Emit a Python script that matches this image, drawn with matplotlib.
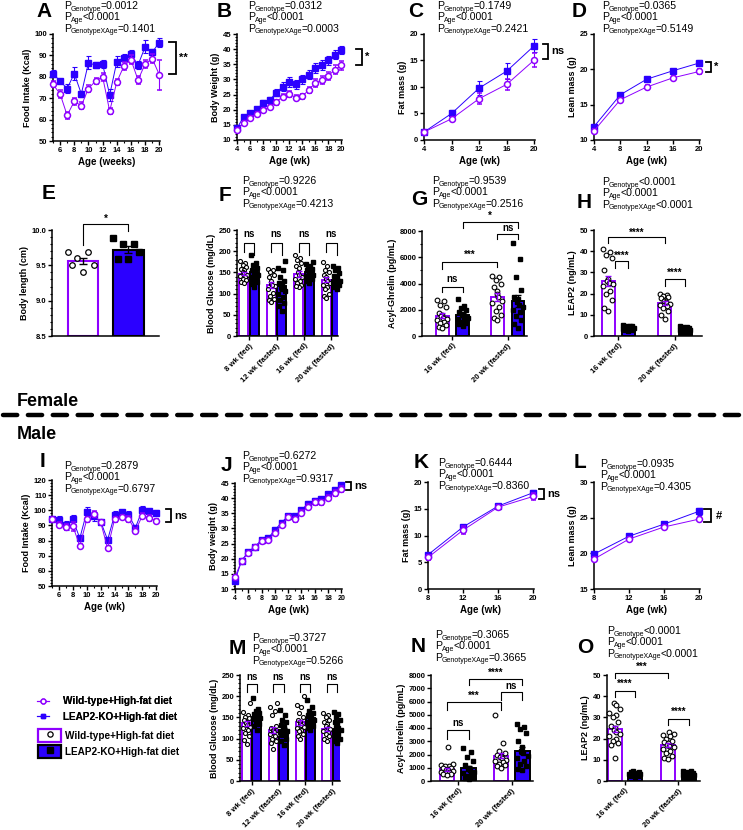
import numpy as np
import matplotlib
matplotlib.use("Agg")
import matplotlib.pyplot as plt
from matplotlib.lines import Line2D
from matplotlib.patches import Patch
from matplotlib.legend_handler import HandlerTuple
from matplotlib.ticker import MultipleLocator, FormatStrFormatter

plt.rcParams.update({
    "font.family": ["Liberation Sans", "DejaVu Sans"],
    "font.weight": "bold",
    "font.size": 6,
    "axes.linewidth": 1.1,
    "axes.labelweight": "bold",
    "axes.labelsize": 6.5,
    "axes.labelpad": 2,
    "xtick.major.width": 1.0, "ytick.major.width": 1.0,
    "xtick.major.size": 3, "ytick.major.size": 3,
    "xtick.minor.size": 1.6, "ytick.minor.size": 1.6,
    "xtick.minor.width": 0.8, "ytick.minor.width": 0.8,
    "xtick.major.pad": 1.5, "ytick.major.pad": 1.0,
    "xtick.labelsize": 5.5, "ytick.labelsize": 5.5,
})

W, H = 743, 830
WT = "#8E00FF"
KO = "#2B00FF"

# ---------------- female data ----------------
wk_fi = [5, 6, 7, 8, 9, 10, 11, 12, 13, 14, 15, 16, 17, 18, 19, 20]
wk_bw = [4, 5, 6, 7, 8, 9, 10, 11, 12, 13, 14, 15, 16, 17, 18, 19, 20]
wk_comp_f = [4, 8, 12, 16, 20]
wk_comp_m = [8, 12, 16, 20]

f_fi_wt = [76.5, 72, 62, 68.5, 66.5, 74.5, 78, 80, 64, 77.5, 85, 88, 78.5, 86, 88.5, 81]
f_fi_wt_e = [1.5, 2, 1.5, 1.5, 1.5, 1.5, 1.5, 2, 1.5, 1.5, 2, 2, 2, 2, 2, 7]
f_fi_ko = [81.5, 78, 74.5, 81.5, 72, 86.5, 85.5, 86, 71.5, 87, 89, 90.5, 85.5, 94, 91.5, 96]
f_fi_ko_e = [1.5, 1, 2, 3, 1.5, 3, 1.5, 2, 3, 2.5, 1.5, 2, 2, 3, 1.5, 2]

f_bw_wt = [13.2, 15.7, 17.4, 18.6, 19.9, 20.9, 22.5, 24.3, 25.3, 24.0, 24.4, 26.5, 28.8, 29.7, 31.2, 33.2, 34.6]
f_bw_wt_e = [0.6, 0.6, 0.6, 0.6, 0.7, 0.7, 0.8, 0.9, 1.0, 0.8, 0.9, 1.0, 1.2, 1.3, 1.4, 1.4, 1.5]
f_bw_ko = [13.8, 17.7, 18.9, 20.1, 22.1, 23.1, 25.6, 27.6, 29.1, 28.4, 30.0, 31.6, 33.8, 34.8, 36.4, 38.1, 39.7]
f_bw_ko_e = [0.5, 0.6, 0.6, 0.8, 1.0, 1.1, 1.2, 1.4, 1.6, 1.5, 1.5, 1.6, 1.7, 1.6, 1.5, 1.5, 1.4]

f_fat_wt = [1.5, 4.0, 7.8, 10.5, 15.1]
f_fat_wt_e = [0.2, 0.3, 1.0, 1.1, 1.3]
f_fat_ko = [1.5, 5.0, 9.8, 13.0, 17.8]
f_fat_ko_e = [0.2, 0.7, 1.3, 1.5, 1.2]

f_lean_wt = [11.3, 15.7, 17.5, 18.8, 19.7]
f_lean_wt_e = [0.3, 0.3, 0.3, 0.3, 0.3]
f_lean_ko = [11.9, 16.4, 18.6, 19.8, 20.9]
f_lean_ko_e = [0.3, 0.3, 0.3, 0.3, 0.4]

f_len_wt_pts = [9.69, 9.69, 9.60, 9.50, 9.50, 9.41]
f_len_ko_pts = [9.89, 9.80, 9.80, 9.69, 9.59, 9.59]
f_len_mean = [9.56, 9.72]
f_len_sem = [0.045, 0.05]

glu_groups = ["8 wk (fed)", "12 wk (fasted)", "16 wk (fed)", "20 wk (fasted)"]
hormone_groups = ["16 wk (fed)", "20 wk (fasted)"]

f_glu_wt = [147, 120, 146, 133]
f_glu_wt_e = [4, 7, 7, 6]
f_glu_ko = [150, 117, 150, 133]
f_glu_ko_e = [5, 8, 4, 4]
f_glu_wt_pts = [
    [176, 172, 168, 163, 158, 155, 152, 148, 145, 142, 139, 135, 131, 128, 125],
    [158, 155, 150, 145, 140, 130, 122, 118, 110, 102, 95, 88, 85, 80, 120],
    [190, 185, 180, 172, 165, 160, 150, 145, 140, 135, 130, 125, 120, 115, 118],
    [175, 165, 155, 150, 145, 140, 135, 130, 125, 120, 115, 110, 100, 95, 90],
]
f_glu_ko_pts = [
    [190, 172, 168, 160, 156, 152, 150, 147, 143, 140, 137, 133, 128, 122, 115],
    [178, 160, 155, 140, 130, 125, 118, 112, 105, 98, 92, 85, 78, 70, 60, 115],
    [175, 170, 165, 160, 158, 155, 152, 150, 147, 145, 142, 140, 138, 135, 130, 125],
    [165, 160, 155, 148, 142, 138, 135, 132, 130, 128, 125, 122, 120, 115, 110],
]

f_ghr_wt = [1550, 2950]
f_ghr_wt_e = [180, 300]
f_ghr_ko = [1600, 2650]
f_ghr_ko_e = [160, 450]
f_ghr_wt_pts = [
    [2750, 2650, 2400, 2200, 1750, 1600, 1500, 1400, 1300, 1200, 1100, 1000, 850, 700, 600],
    [4600, 4500, 4300, 4000, 3700, 3400, 3200, 3000, 2700, 2500, 2200, 1900, 1600, 1400, 1200],
]
f_ghr_ko_pts = [
    [2850, 2300, 2100, 2000, 1800, 1700, 1600, 1500, 1400, 1300, 1200, 1100, 1000, 900, 800],
    [7100, 5900, 4500, 3500, 3000, 2800, 2600, 2400, 2200, 2000, 1800, 1500, 1200, 900, 600],
]

f_leap_wt = [26, 15.5]
f_leap_wt_e = [2.3, 0.9]
f_leap_ko = [4, 3]
f_leap_ko_e = [0.2, 0.2]
f_leap_wt_pts = [
    [41, 39.5, 38, 37, 31, 27, 26, 25, 24.5, 23.5, 21, 20, 17, 13, 12],
    [20, 19.5, 19, 18.5, 18, 17, 16.5, 16, 15, 14.5, 14, 13, 12, 10, 8],
]
f_leap_ko_pts = [
    [5, 4.8, 4.6, 4.5, 4.3, 4.2, 4, 3.9, 3.7, 3.5, 3.3, 3.1, 2.9, 2.7, 2.5],
    [4.5, 4.3, 4.1, 3.9, 3.7, 3.5, 3.3, 3.1, 2.9, 2.7, 2.5, 2.3, 2.1, 2.0, 1.9],
]

# ---------------- male data ----------------
m_fi_wt = [94, 90.5, 89, 89.5, 76.5, 94, 97.5, 92, 75, 94, 95.5, 94.5, 86.5, 96.5, 95, 93]
m_fi_wt_e = [1, 1.5, 2, 3, 1.5, 1.5, 2, 1, 1.5, 1.5, 1.5, 2, 1.5, 1.5, 2, 1.5]
m_fi_ko = [94, 93.5, 90, 94, 81.5, 99, 96, 92.5, 80.5, 97, 99, 97, 88.5, 100.5, 99.5, 98.5]
m_fi_ko_e = [1, 2.5, 3, 3, 1.5, 3, 3, 1, 1.5, 2.5, 1.5, 2.5, 1.5, 2.5, 1.5, 1.5]

m_bw_wt = [14.0, 19.3, 21.8, 23.9, 25.8, 26.2, 28.6, 31.1, 33.7, 33.0, 35.2, 37.2, 38.6, 38.6, 40.2, 41.8, 43.1]
m_bw_wt_e = [0.5, 0.5, 0.5, 0.5, 0.6, 0.6, 0.7, 0.7, 0.7, 0.8, 0.8, 0.8, 0.9, 0.9, 0.9, 1.0, 1.0]
m_bw_ko = [12.8, 19.4, 22.3, 24.0, 26.2, 26.8, 29.5, 31.9, 34.2, 34.0, 36.1, 38.2, 39.2, 39.7, 41.3, 42.8, 44.2]
m_bw_ko_e = [0.5, 0.5, 0.5, 0.5, 0.6, 0.6, 0.6, 0.6, 0.6, 0.6, 0.7, 0.7, 0.7, 0.7, 0.7, 0.7, 0.7]

m_fat_wt = [5.9, 11.0, 15.3, 17.3]
m_fat_wt_e = [0.4, 0.8, 0.4, 0.6]
m_fat_ko = [6.4, 11.6, 15.5, 18.0]
m_fat_ko_e = [0.4, 0.4, 0.4, 0.5]

m_lean_wt = [19.2, 22.0, 23.7, 24.8]
m_lean_wt_e = [0.3, 0.3, 0.3, 0.3]
m_lean_ko = [19.9, 22.4, 24.1, 25.9]
m_lean_ko_e = [0.3, 0.3, 0.3, 0.5]

m_glu_wt = [136, 120, 138, 123]
m_glu_wt_e = [6, 7, 6, 4]
m_glu_ko = [152, 121, 148, 122]
m_glu_ko_e = [6, 5, 5, 5]
m_glu_wt_pts = [
    [183, 163, 156, 152, 148, 144, 140, 136, 132, 128, 124, 120, 113, 105, 97, 88],
    [185, 175, 165, 155, 130, 125, 120, 118, 115, 112, 110, 105, 100, 95, 90, 75],
    [200, 180, 175, 160, 150, 145, 140, 135, 132, 128, 125, 120, 118, 112, 105, 100],
    [160, 155, 150, 145, 140, 135, 130, 125, 122, 118, 115, 110, 105, 100, 95],
]
m_glu_ko_pts = [
    [195, 170, 165, 160, 157, 155, 152, 150, 148, 146, 144, 140, 135, 130, 120],
    [168, 155, 145, 140, 132, 128, 125, 122, 118, 115, 112, 108, 100, 95, 85],
    [190, 175, 165, 160, 155, 152, 150, 148, 145, 140, 138, 135, 130, 125, 120],
    [162, 158, 150, 145, 140, 135, 128, 124, 120, 115, 110, 105, 100, 95, 90],
]

m_ghr_wt = [900, 1900]
m_ghr_wt_e = [110, 200]
m_ghr_ko = [950, 2300]
m_ghr_ko_e = [180, 280]
m_ghr_wt_pts = [
    [2600, 1300, 1200, 1150, 1100, 1000, 950, 900, 850, 800, 750, 700, 650, 600, 550, 500, 450],
    [4950, 2900, 2300, 2100, 2000, 1900, 1800, 1700, 1600, 1500, 1400, 1300, 1200, 1100, 1000],
]
m_ghr_ko_pts = [
    [2500, 2200, 1800, 1500, 1200, 1000, 900, 800, 700, 600, 500, 400, 300, 200, 150],
    [4300, 4100, 3900, 3600, 3000, 2600, 2300, 2100, 1900, 1700, 1500, 1300, 1100, 900, 800],
]

m_leap_wt = [24.5, 17]
m_leap_wt_e = [1.5, 0.8]
m_leap_ko = [3.5, 3]
m_leap_ko_e = [0.2, 0.2]
m_leap_wt_pts = [
    [37, 36, 34, 32, 31, 30, 28, 26, 25, 24, 23, 22, 21, 20, 19, 18, 17, 11],
    [23, 22, 21.5, 21, 20, 19, 18.5, 18, 17, 16.5, 16, 15, 14, 13, 12, 11, 10.5],
]
m_leap_ko_pts = [
    [4.5, 4.3, 4.1, 3.9, 3.7, 3.5, 3.3, 3.1, 2.9, 2.7, 2.5, 2.3, 2.1],
    [4.8, 4.5, 4.2, 4.0, 3.8, 3.5, 3.3, 3.1, 2.9, 2.7, 2.5, 2.3, 2.1, 1.9, 1.7],
]

p_names = ["Genotype", "Age", "GenotypeXAge"]
p_vals = {
    "A": ["=0.0012", "<0.0001", "=0.1401"],
    "B": ["=0.0312", "<0.0001", "=0.0003"],
    "C": ["=0.1749", "<0.0001", "=0.2421"],
    "D": ["=0.0365", "<0.0001", "=0.5149"],
    "F": ["=0.9226", "<0.0001", "=0.4213"],
    "G": ["=0.9539", "<0.0001", "=0.2516"],
    "H": ["<0.0001", "<0.0001", "<0.0001"],
    "I": ["=0.2879", "<0.0001", "=0.6797"],
    "J": ["=0.6272", "<0.0001", "=0.9317"],
    "K": ["=0.6444", "<0.0001", "=0.8360"],
    "L": ["=0.0935", "<0.0001", "=0.4305"],
    "M": ["=0.3727", "<0.0001", "=0.5266"],
    "N": ["=0.3065", "<0.0001", "=0.3665"],
    "O": ["<0.0001", "<0.0001", "<0.0001"],
}

fig = plt.figure(figsize=(W / 100, H / 100), dpi=100)
renderer = fig.canvas.get_renderer()


def px_axes(l, t, r, b):
    ax = fig.add_axes([l / W, 1 - b / H, (r - l) / W, (b - t) / H])
    for s in ("top", "right"):
        ax.spines[s].set_visible(False)
    return ax


def letter(x, y, s):
    fig.text(x / W, 1 - y / H, s, fontsize=15, weight="bold", va="top", ha="left")


def ptext(x, y, key, dy=11.3, size=7.6, sub=5.0):
    # y = baseline (px from top) of the first line
    for i, (n, v) in enumerate(zip(p_names, p_vals[key])):
        yb = 1 - (y + i * dy) / H
        t = fig.text(x / W, yb, "P", fontsize=size, weight="normal", va="baseline")
        x1 = t.get_window_extent(renderer).x1
        t = fig.text((x1 - 0.3) / W, yb - 1.8 / H, n, fontsize=sub, weight="normal",
                     va="baseline")
        x2 = t.get_window_extent(renderer).x1
        fig.text((x2 - 0.8) / W, yb, v, fontsize=size, weight="normal", va="baseline")


def line_panel(ax, x, wt, wt_e, ko, ko_e, ms=4.3):
    ax.errorbar(x, ko, yerr=ko_e, color=KO, marker="s", ms=ms, lw=0.7,
                elinewidth=0.8, capsize=1.8, capthick=0.8, zorder=3, clip_on=False)
    ax.errorbar(x, wt, yerr=wt_e, color=WT, marker="o", mfc="white", mec=WT, mew=1.1,
                ms=ms, lw=0.7, elinewidth=0.8, capsize=1.8, capthick=0.8, zorder=4,
                clip_on=False)


def side_bracket(ax, x1, x2, y1, y2, label):
    ax.plot([x1, x2, x2, x1], [y1, y1, y2, y2], color="black", lw=1.3,
            clip_on=False, solid_joinstyle="miter")
    ax.text(x2 + (x2 - x1) * 0.6, (y1 + y2) / 2, label, fontsize=8, weight="bold",
            va="center", ha="left", clip_on=False)


def spread(vals, width):
    order = np.argsort(vals)
    pattern = [0, -1, 1, -0.5, 0.5, -1.4, 1.4, 0.25, -0.25]
    offs = np.zeros(len(vals))
    for k, idx in enumerate(order):
        offs[idx] = pattern[k % len(pattern)] * width * 0.28
    return offs


def bar_panel(ax, labels, off, width, wt_m, wt_e, ko_m, ko_e, wt_pts, ko_pts, ms=3.3):
    centers = np.arange(len(labels))
    for i, c in enumerate(centers):
        ax.bar(c - off, wt_m[i], width, color="white", edgecolor=WT, linewidth=1.4, zorder=1)
        ax.bar(c + off, ko_m[i], width, color=KO, edgecolor="black", linewidth=1.4, zorder=1)
        wp = np.array(wt_pts[i], float)
        kp = np.array(ko_pts[i], float)
        ax.plot(c - off + spread(wp, width), wp, "o", mfc="white", mec="black", mew=0.8,
                ms=ms, ls="none", zorder=3, clip_on=False)
        ax.plot(c + off + spread(kp, width), kp, "s", color="black", ms=ms * 0.9,
                ls="none", zorder=3, clip_on=False)
        ax.errorbar(c - off, wt_m[i], yerr=wt_e[i], color=WT, capsize=2, lw=1,
                    capthick=1, zorder=4)
        ax.errorbar(c + off, ko_m[i], yerr=ko_e[i], color="black", capsize=2, lw=1,
                    capthick=1, zorder=4)
    ax.set_xticks(centers)
    ax.set_xticklabels(labels, rotation=45, ha="right", rotation_mode="anchor", fontsize=5.6)


def sig(ax, x1, x2, y, l1, l2, label, ty):
    ax.plot([x1, x1, x2, x2], [l1, y, y, l2], color="black", lw=0.8, clip_on=False)
    ax.text((x1 + x2) / 2, ty, label, fontsize=7, weight="bold", ha="center",
            va="center", clip_on=False)


# ================= Female row 1 =================
ax = px_axes(53, 34, 160, 141)
line_panel(ax, wk_fi, f_fi_wt, f_fi_wt_e, f_fi_ko, f_fi_ko_e)
ax.set_xlim(5, 20.1)
ax.set_ylim(50, 100)
ax.set_xticks([6, 8, 10, 12, 14, 16, 18, 20])
ax.xaxis.set_minor_locator(MultipleLocator(1))
ax.yaxis.set_major_locator(MultipleLocator(10))
ax.yaxis.set_minor_locator(MultipleLocator(2))
ax.set_xlabel("Age (weeks)", fontsize=7)
ax.set_ylabel("Food Intake (Kcal)")
side_bracket(ax, 21.4, 22.3, 81.3, 96.3, "**")
letter(36, 2, "A")
ptext(64, 9, "A")

ax = px_axes(237, 34, 342, 140)
line_panel(ax, wk_bw, f_bw_wt, f_bw_wt_e, f_bw_ko, f_bw_ko_e)
ax.set_xlim(4, 20.1)
ax.set_ylim(10, 45)
ax.set_xticks(range(4, 21, 2))
ax.xaxis.set_minor_locator(MultipleLocator(1))
ax.yaxis.set_major_locator(MultipleLocator(5))
ax.yaxis.set_minor_locator(MultipleLocator(1))
ax.set_xlabel("Age (wk)", fontsize=7)
ax.set_ylabel("Body Weight (g)")
side_bracket(ax, 22.3, 23.1, 34.8, 40.0, "*")
letter(217, 2, "B")
ptext(248, 9, "B")

ax = px_axes(424, 34, 535, 140)
line_panel(ax, wk_comp_f, f_fat_wt, f_fat_wt_e, f_fat_ko, f_fat_ko_e)
ax.set_xlim(4, 20.1)
ax.set_ylim(0, 20)
ax.set_xticks(wk_comp_f)
ax.yaxis.set_major_locator(MultipleLocator(5))
ax.set_xlabel("Age (wk)", fontsize=7)
ax.set_ylabel("Fat mass (g)")
side_bracket(ax, 21.2, 22.0, 15.3, 18.1, "ns")
letter(408, 2, "C")
ptext(437, 9, "C")

ax = px_axes(594, 34, 700, 140)
line_panel(ax, wk_comp_f, f_lean_wt, f_lean_wt_e, f_lean_ko, f_lean_ko_e)
ax.set_xlim(4, 20.1)
ax.set_ylim(10, 25)
ax.set_xticks(wk_comp_f)
ax.yaxis.set_major_locator(MultipleLocator(5))
ax.set_xlabel("Age (wk)", fontsize=7)
ax.set_ylabel("Lean mass (g)")
side_bracket(ax, 21.05, 21.8, 19.6, 21.0, "*")
letter(572, 2, "D")
ptext(602, 9, "D")

# ================= Female row 2 =================
ax = px_axes(52, 230, 159, 336)
for i, (pts, col, ec, mk) in enumerate([(f_len_wt_pts, "white", WT, "o"),
                                        (f_len_ko_pts, KO, "black", "s")]):
    ax.bar(i, f_len_mean[i] - 8.5, 0.66, bottom=8.5, color=col, edgecolor=ec,
           linewidth=1.5, zorder=1)
    p = np.array(pts)
    if mk == "o":
        ax.plot(i + spread(p, 0.66) * 1.3, p, "o", mfc="white", mec="black", mew=0.9,
                ms=4, ls="none", zorder=3)
    else:
        ax.plot(i + spread(p, 0.66) * 1.3, p, "s", color="black", ms=4, ls="none", zorder=3)
    ax.errorbar(i, f_len_mean[i], yerr=f_len_sem[i], color="black", capsize=3, lw=1,
                capthick=1, zorder=4)
ax.set_xlim(-0.68, 1.67)
ax.set_ylim(8.5, 10.0)
ax.set_xticks([])
ax.yaxis.set_major_locator(MultipleLocator(0.5))
ax.yaxis.set_minor_locator(MultipleLocator(0.1))
ax.yaxis.set_major_formatter(FormatStrFormatter("%.1f"))
ax.set_ylabel("Body length (cm)")
sig(ax, 0, 1, 10.08, 9.79, 9.98, "*", 10.16)
letter(42, 184, "E")

ax = px_axes(237, 230, 338, 336)
bar_panel(ax, glu_groups, 0.19, 0.33, f_glu_wt, f_glu_wt_e, f_glu_ko, f_glu_ko_e,
          f_glu_wt_pts, f_glu_ko_pts, ms=2.9)
ax.set_xlim(-0.44, 3.24)
ax.set_ylim(0, 250)
ax.yaxis.set_major_locator(MultipleLocator(50))
ax.yaxis.set_minor_locator(MultipleLocator(10))
ax.set_ylabel("Blood Glucose (mg/dL)")
for g in range(4):
    sig(ax, g - 0.19, g + 0.19, 220, 198, 192, "ns", 240)
letter(219, 186, "F")
ptext(242, 184, "F")

ax = px_axes(422, 231, 527, 336)
bar_panel(ax, hormone_groups, 0.185, 0.23, f_ghr_wt, f_ghr_wt_e, f_ghr_ko, f_ghr_ko_e,
          f_ghr_wt_pts, f_ghr_ko_pts, ms=3.4)
ax.set_xlim(-0.55, 1.35)
ax.set_ylim(0, 8000)
ax.yaxis.set_major_locator(MultipleLocator(2000))
ax.yaxis.set_minor_locator(MultipleLocator(1000))
ax.set_ylabel("Acyl-Ghrelin (pg/mL)")
sig(ax, -0.185, 0.185, 3750, 3370, 3370, "ns", 4380)
sig(ax, -0.185, 0.815, 5620, 5140, 5220, "***", 6150)
sig(ax, 0.815, 1.185, 7750, 7420, 7420, "ns", 8250)
sig(ax, 0.185, 1.185, 8680, 8250, 8250, "*", 9150)
letter(411, 190, "G")
ptext(432, 184, "G")

ax = px_axes(594, 230, 702, 336)
bar_panel(ax, hormone_groups, 0.18, 0.23, f_leap_wt, f_leap_wt_e, f_leap_ko, f_leap_ko_e,
          f_leap_wt_pts, f_leap_ko_pts, ms=3.4)
ax.set_xlim(-0.43, 1.48)
ax.set_ylim(0, 50)
ax.yaxis.set_major_locator(MultipleLocator(10))
ax.set_ylabel("LEAP2 (ng/mL)")
sig(ax, -0.18, 0.82, 46.5, 43.8, 43.8, "****", 48.6)
sig(ax, -0.05, 0.18, 35.5, 32.3, 32.3, "****", 38.0)
sig(ax, 0.82, 1.18, 26.8, 23.7, 23.7, "****", 30.0)
letter(577, 193, "H")
ptext(602, 185, "H")

# ================= separator =================
fig.text(17 / W, 1 - 401 / H, "Female", fontsize=13, weight="bold", va="center",
         ha="left", family=["Liberation Sans Narrow", "Liberation Sans"])
fig.text(17 / W, 1 - 434 / H, "Male", fontsize=13, weight="bold", va="center",
         ha="left", family=["Liberation Sans Narrow", "Liberation Sans"])
fig.add_artist(Line2D([0.004, 1.0], [1 - 415 / H, 1 - 415 / H], transform=fig.transFigure,
                      color="black", lw=3.2, ls=(0, (3.2, 2.4)), dash_capstyle="round"))

# ================= Male row 1 =================
ax = px_axes(52, 480, 157, 586)
line_panel(ax, wk_fi, m_fi_wt, m_fi_wt_e, m_fi_ko, m_fi_ko_e)
ax.set_xlim(5, 20.1)
ax.set_ylim(50, 120)
ax.set_xticks([6, 8, 10, 12, 14, 16, 18, 20])
ax.xaxis.set_minor_locator(MultipleLocator(1))
ax.yaxis.set_major_locator(MultipleLocator(10))
ax.yaxis.set_minor_locator(MultipleLocator(2))
ax.set_xlabel("Age (wk)", fontsize=7)
ax.set_ylabel("Food Intake (Kcal)")
side_bracket(ax, 21.4, 22.1, 92.3, 100.8, "ns")
letter(40, 452, "I")
ptext(64, 469, "I")

ax = px_axes(235, 483, 342, 589)
line_panel(ax, wk_bw, m_bw_wt, m_bw_wt_e, m_bw_ko, m_bw_ko_e)
ax.set_xlim(4, 20.1)
ax.set_ylim(10, 45)
ax.set_xticks(range(4, 21, 2))
ax.xaxis.set_minor_locator(MultipleLocator(1))
ax.yaxis.set_major_locator(MultipleLocator(5))
ax.yaxis.set_minor_locator(MultipleLocator(1))
ax.tick_params(axis="x", labelsize=5)
ax.set_xlabel("Age (wk)", fontsize=7)
ax.set_ylabel("Body weight (g)")
side_bracket(ax, 20.7, 21.5, 42.7, 45.3, "ns")
letter(221, 456, "J")
ptext(242, 459, "J")

ax = px_axes(428, 482, 534, 589)
line_panel(ax, wk_comp_m, m_fat_wt, m_fat_wt_e, m_fat_ko, m_fat_ko_e)
ax.set_xlim(8, 20.1)
ax.set_ylim(0, 20)
ax.set_xticks(wk_comp_m)
ax.yaxis.set_major_locator(MultipleLocator(5))
ax.set_xlabel("Age (wk)", fontsize=7)
ax.set_ylabel("Fat mass (g)")
side_bracket(ax, 20.7, 21.25, 16.8, 18.7, "ns")
letter(414, 453, "K")
ptext(438, 466, "K")

ax = px_axes(594, 482, 700, 589)
line_panel(ax, wk_comp_m, m_lean_wt, m_lean_wt_e, m_lean_ko, m_lean_ko_e)
ax.set_xlim(8, 20.1)
ax.set_ylim(15, 30)
ax.set_xticks(wk_comp_m)
ax.yaxis.set_major_locator(MultipleLocator(5))
ax.set_xlabel("Age (wk)", fontsize=7)
ax.set_ylabel("Lean mass (g)")
side_bracket(ax, 20.6, 21.4, 24.4, 26.2, "#")
letter(574, 453, "L")
ptext(600, 467, "L")

# ================= Male row 2 =================
ax = px_axes(240, 675, 340, 781)
bar_panel(ax, glu_groups, 0.19, 0.33, m_glu_wt, m_glu_wt_e, m_glu_ko, m_glu_ko_e,
          m_glu_wt_pts, m_glu_ko_pts, ms=2.9)
ax.set_xlim(-0.44, 3.3)
ax.set_ylim(0, 250)
ax.yaxis.set_major_locator(MultipleLocator(50))
ax.yaxis.set_minor_locator(MultipleLocator(10))
ax.set_ylabel("Blood Glucose (mg/dL)")
for g in range(4):
    sig(ax, g - 0.19, g + 0.19, 229, 211, 211, "ns", 246)
letter(229, 639, "M")
ptext(252, 641, "M")

ax = px_axes(431, 675, 533, 781)
bar_panel(ax, hormone_groups, 0.2, 0.27, m_ghr_wt, m_ghr_wt_e, m_ghr_ko, m_ghr_ko_e,
          m_ghr_wt_pts, m_ghr_ko_pts, ms=3.4)
ax.set_xlim(-0.5, 1.4)
ax.set_ylim(0, 8000)
ax.yaxis.set_major_locator(MultipleLocator(1000))
ax.set_ylabel("Acyl-Ghrelin (pg/mL)")
sig(ax, -0.2, 0.2, 3850, 3150, 3150, "ns", 4400)
sig(ax, -0.2, 0.8, 5940, 5360, 5360, "***", 6450)
sig(ax, 0.8, 1.2, 6690, 6110, 6110, "ns", 7150)
sig(ax, 0.2, 1.2, 7670, 7250, 7250, "****", 8150)
letter(411, 637, "N")
ptext(435, 638, "N")

ax = px_axes(607, 675, 700, 781)
bar_panel(ax, hormone_groups, 0.19, 0.26, m_leap_wt, m_leap_wt_e, m_leap_ko, m_leap_ko_e,
          m_leap_wt_pts, m_leap_ko_pts, ms=3.4)
ax.set_xlim(-0.33, 1.4)
ax.set_ylim(0, 50)
ax.yaxis.set_major_locator(MultipleLocator(10))
ax.set_ylabel("LEAP2 (ng/mL)")
sig(ax, -0.19, 0.81, 50.8, 48.4, 48.4, "***", 53.8)
sig(ax, -0.19, 0.19, 42.6, 39.8, 39.8, "****", 46.0)
sig(ax, 0.81, 1.19, 29.1, 26.4, 26.4, "****", 32.5)
letter(577, 638, "O")
ptext(607, 634, "O")

# ================= legend =================
h_lines = [Line2D([], [], color=WT, marker="o", mfc="white", mec=WT, mew=1, ms=3.5, lw=0.8),
           Line2D([], [], color=KO, marker="s", ms=3.5, lw=0.8)]
leg1 = fig.legend(h_lines, ["Wild-type+High-fat diet", "LEAP2-KO+High-fat diet"],
                  loc="upper left", bbox_to_anchor=(37 / W, 1 - 696 / H), frameon=False,
                  fontsize=7.2, handlelength=1.2, labelspacing=0.55, handletextpad=1.4,
                  borderaxespad=0, borderpad=0)
h_bars = [(Patch(facecolor="white", edgecolor=WT, lw=1.6),
           Line2D([], [], marker="o", mfc="white", mec="black", mew=0.9, ms=3.8, ls="none")),
          (Patch(facecolor=KO, edgecolor="black", lw=1.6),
           Line2D([], [], marker="s", color="black", ms=3.8, ls="none"))]
fig.legend(h_bars, ["Wild-type+High-fat diet", "LEAP2-KO+High-fat diet"],
           handler_map={tuple: HandlerTuple(ndivide=1)},
           loc="upper left", bbox_to_anchor=(38 / W, 1 - 729 / H), frameon=False,
           fontsize=7.2, handlelength=2.3, handleheight=1.6, labelspacing=0.35,
           handletextpad=0.4, borderaxespad=0, borderpad=0)
fig.add_artist(leg1)

fig.savefig("out.png", dpi=100)
